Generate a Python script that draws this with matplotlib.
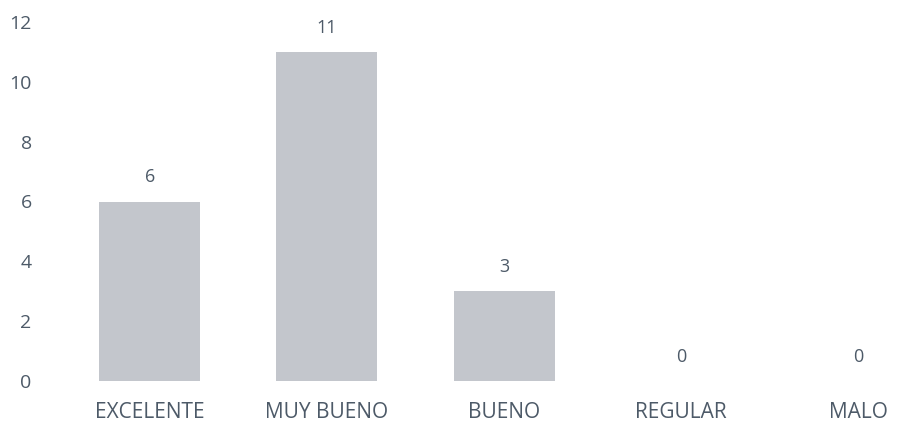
import matplotlib
matplotlib.use("Agg")
import matplotlib.pyplot as plt

categorias = ["EXCELENTE", "MUY BUENO", "BUENO", "REGULAR", "MALO"]
valores = [6, 11, 3, 0, 0]
yticks = [0, 2, 4, 6, 8, 10, 12]

texto = "#4d5a68"
plt.rcParams['font.family'] = ['Open Sans', 'DejaVu Sans']

fig = plt.figure(figsize=(8.99, 4.32), dpi=100)
ax = fig.add_axes([40 / 899, 51 / 432, 859 / 899, 359 / 432])

x = range(len(categorias))
barras = ax.bar(x, valores, width=0.57, color="#c3c6cc")

for xi, v in zip(x, valores):
    ax.annotate(str(v), (xi, v), xytext=(0, 11), textcoords="offset points",
                ha="center", va="bottom", fontsize=13, color=texto)

ax.set_xlim(-0.62, 4.23)
ax.set_ylim(0, 12)
ax.set_yticks(yticks)
ax.set_xticks(list(x))
ax.set_xticklabels(categorias, fontsize=15)
ax.tick_params(axis="both", length=0, colors=texto)
ax.tick_params(axis="y", labelsize=14, pad=6)
ax.tick_params(axis="x", pad=15)
for s in ax.spines.values():
    s.set_visible(False)

fig.savefig("out.png", dpi=100)
